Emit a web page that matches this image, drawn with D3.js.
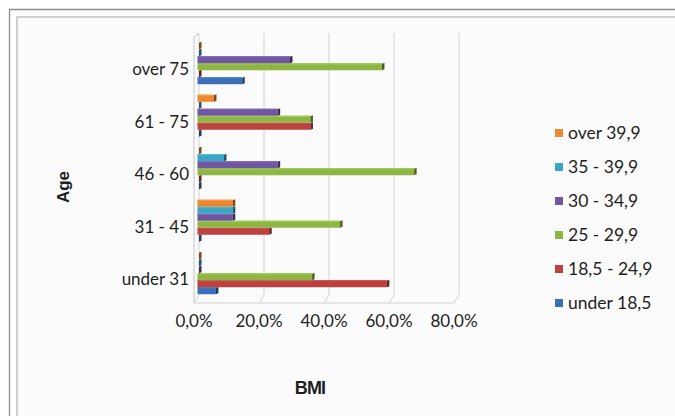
<!DOCTYPE html>
<html>
<head>
<meta charset="utf-8">
<script src="https://cdn.jsdelivr.net/npm/d3@7"></script>
<style>
  html, body { margin: 0; padding: 0; background: #ffffff; }
  svg { display: block; }
</style>
</head>
<body>
<svg id="chart" width="675" height="416"></svg>
<script>
// Age groups, listed top to bottom
const ageGroups = ["over 75", "61 - 75", "46 - 60", "31 - 45", "under 31"];
// BMI classes, in series order (first series sits at the bottom of each group)
const bmiClasses = ["under 18,5", "18,5 - 24,9", "25 - 29,9", "30 - 34,9", "35 - 39,9", "over 39,9"];
const bmiColors = ["#3d6fb6", "#bb423f", "#8db646", "#7157a1", "#3ba5c2", "#eb8833"];

// Share of each age group in each BMI class (%), one array per BMI class, in ageGroups order
const under185 = [13.3, 0, 0, 0, 5.2];
const bmi185to249 = [0, 34.3, 0, 21.6, 57.8];
const bmi25to299 = [56.3, 34.3, 66.2, 43.4, 34.8];
const bmi30to349 = [28.0, 24.2, 24.2, 10.4, 0];
const bmi35to399 = [0, 0, 7.7, 10.4, 0];
const over399 = [0, 4.6, 0, 10.4, 0];
const seriesValues = [under185, bmi185to249, bmi25to299, bmi30to349, bmi35to399, over399];

const xTicks = [0, 20, 40, 60, 80];
const xTickLabels = ["0,0%", "20,0%", "40,0%", "60,0%", "80,0%"];

const svg = d3.select("#chart");
const font = "Lato, 'Liberation Sans', Arial, sans-serif";

// Frame: outer and inner borders of the chart object
svg.append("rect").attr("x", 16).attr("y", 17).attr("width", 675).attr("height", 420)
  .attr("fill", "#fbfbfb");
svg.append("path").attr("d", "M9.5,420 V9.5 H680").attr("fill", "none")
  .attr("stroke", "#8c8c8c").attr("stroke-width", 1.3);
svg.append("path").attr("d", "M17,420 V17 H680").attr("fill", "none")
  .attr("stroke", "#cfcfcf").attr("stroke-width", 2);

// Scales
const depth = { dx: 5, dy: 8 };           // 3D floor offset (back wall -> front edge)
const x = d3.scaleLinear().domain([0, 80]).range([199, 459]);
const wallTop = 33, wallBottom = 295;
const y0 = d3.scaleBand().domain(ageGroups).range([37, 299.5]).paddingInner(0.2).paddingOuter(0.1);
const y1 = d3.scaleBand().domain(d3.range(bmiClasses.length).reverse()).range([0, y0.bandwidth()]);

// Back wall gridlines and 3D floor
const grid = svg.append("g").attr("stroke", "#d2d2d2").attr("stroke-width", 1).attr("fill", "none");
xTicks.forEach(t => {
  const xb = x(t);
  grid.append("line").attr("x1", xb).attr("x2", xb).attr("y1", wallTop).attr("y2", wallBottom);
  grid.append("line").attr("x1", xb).attr("x2", xb - depth.dx).attr("y1", wallBottom).attr("y2", wallBottom + depth.dy);
});
grid.append("line").attr("x1", x(0) - depth.dx).attr("x2", x(80) - depth.dx)
  .attr("y1", wallBottom + depth.dy).attr("y2", wallBottom + depth.dy);
// Left side wall
grid.append("path")
  .attr("d", `M${x(0) - depth.dx},${wallBottom + depth.dy} V${wallTop + 4} L${x(0)},${wallTop}`)
  .attr("stroke", "#c4c4c4");

// Bars
const groups = svg.append("g").selectAll("g")
  .data(ageGroups)
  .join("g")
  .attr("transform", d => `translate(0,${y0(d)})`);

groups.each(function (age, gi) {
  const g = d3.select(this);
  seriesValues.forEach((vals, si) => {
    const v = vals[gi];
    const top = y1(si);
    const h = y1.bandwidth();
    const xs = x(0) - 1.5;
    const xe = x(v);
    const col = bmiColors[si];
    if (v > 0) {
      g.append("rect").attr("x", xs).attr("y", top).attr("width", xe - xs).attr("height", h)
        .attr("fill", col);
      g.append("rect").attr("x", xs).attr("y", top).attr("width", xe - xs).attr("height", 1.2)
        .attr("fill", d3.color(col).brighter(0.35));
    }
    // end face of the bar
    g.append("path")
      .attr("d", `M${xe},${top + 0.5} L${xe + 2.5},${top - 0.5} L${xe + 2.5},${top + h - 1} L${xe},${top + h} Z`)
      .attr("fill", d3.color(col).darker(1.8));
  });
});

// Category labels
svg.append("g").selectAll("text")
  .data(ageGroups)
  .join("text")
  .attr("x", 189)
  .attr("y", d => y0(d) + y0.bandwidth() / 2 + 6)
  .attr("dy", "0.35em")
  .attr("text-anchor", "end")
  .attr("font-family", font)
  .attr("font-size", 17)
  .attr("fill", "#1e1e1e")
  .text(d => d);

// Value axis labels
svg.append("g").selectAll("text")
  .data(xTicks)
  .join("text")
  .attr("x", d => x(d) - depth.dx)
  .attr("y", 327)
  .attr("text-anchor", "middle")
  .attr("font-family", font)
  .attr("font-size", 17)
  .attr("fill", "#1e1e1e")
  .text((d, i) => xTickLabels[i]);

// Axis titles
svg.append("text")
  .attr("x", 310).attr("y", 394)
  .attr("text-anchor", "middle")
  .attr("font-family", "'Liberation Sans', Arial, sans-serif")
  .attr("font-weight", "bold")
  .attr("font-size", 18)
  .attr("letter-spacing", -0.8)
  .attr("fill", "#1e1e1e")
  .text("BMI");
svg.append("text")
  .attr("transform", "translate(69,187) rotate(-90)")
  .attr("text-anchor", "middle")
  .attr("font-family", "'Liberation Sans', Arial, sans-serif")
  .attr("font-weight", "bold")
  .attr("font-size", 17)
  .attr("fill", "#1e1e1e")
  .text("Age");

// Legend (last series first)
const legendOrder = d3.range(bmiClasses.length).reverse();
const legend = svg.append("g").selectAll("g")
  .data(legendOrder)
  .join("g")
  .attr("transform", (d, i) => `translate(555,${133 + i * 34})`);
legend.append("rect").attr("x", 0).attr("y", -4).attr("width", 8).attr("height", 8)
  .attr("fill", d => bmiColors[d]);
legend.append("text")
  .attr("x", 13).attr("y", 0).attr("dy", "0.35em")
  .attr("font-family", font)
  .attr("font-size", 17.5)
  .attr("fill", "#1e1e1e")
  .text(d => bmiClasses[d]);
</script>
</body>
</html>
